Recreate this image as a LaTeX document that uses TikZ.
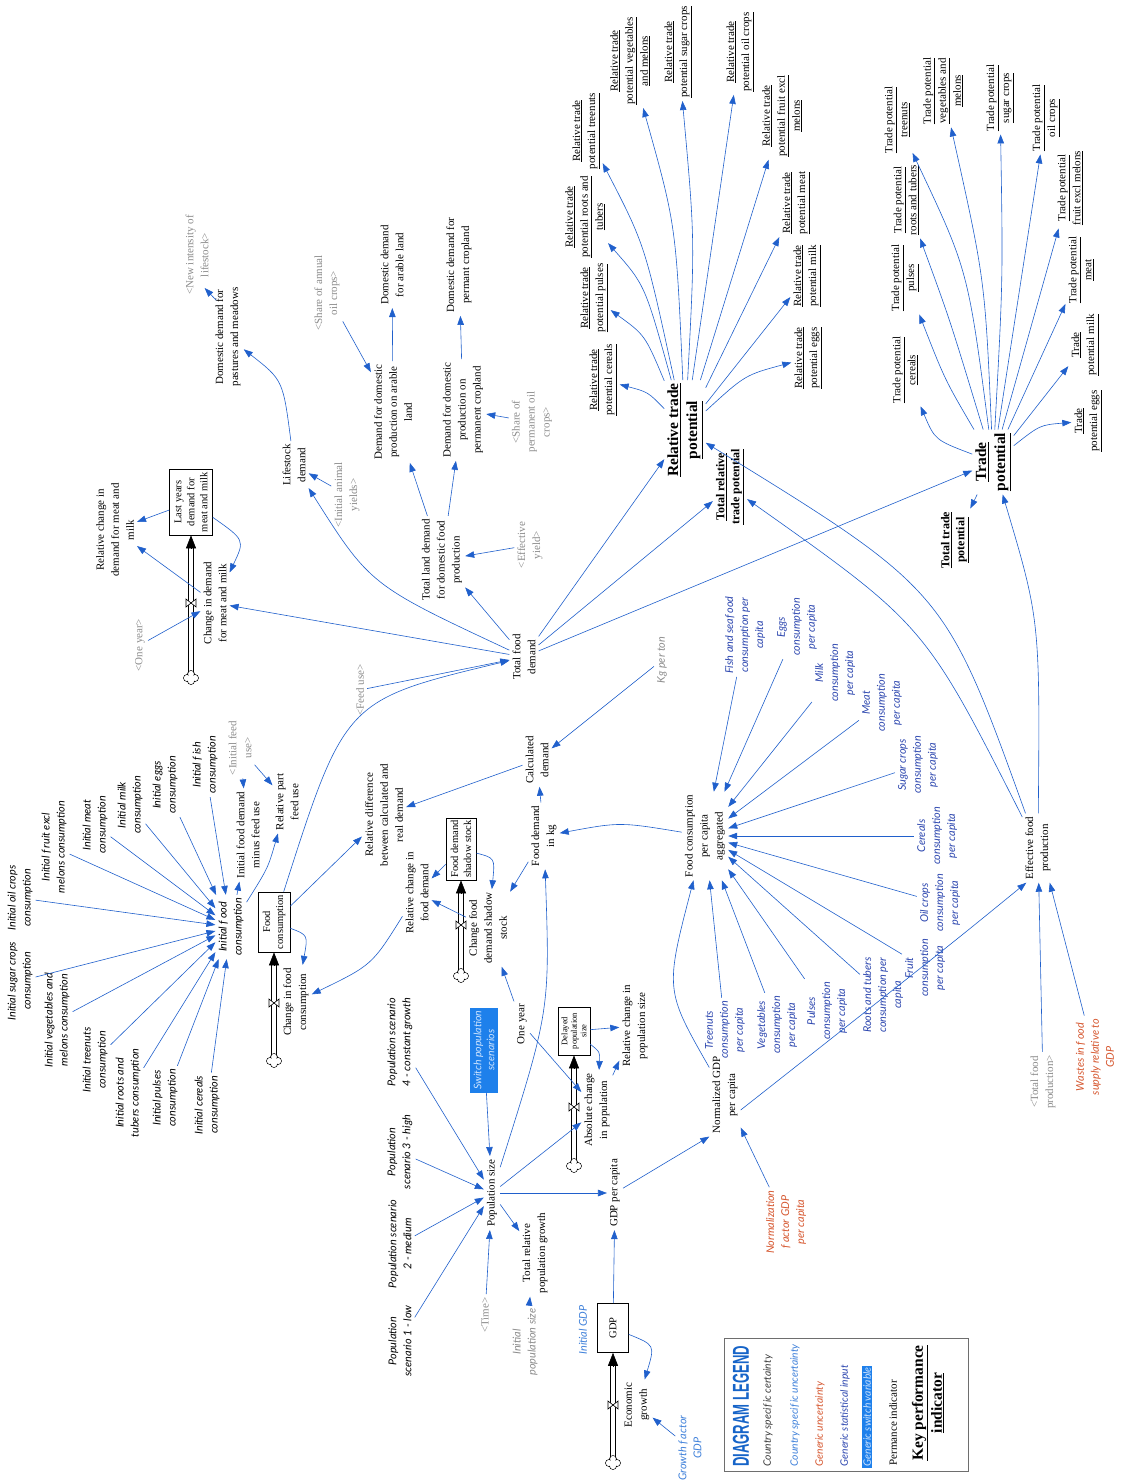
\documentclass[tikz,border=0pt]{standalone}
\usepackage{fontspec}
\setmainfont{Liberation Serif}
\newfontfamily\isans{Lato}
\newfontfamily\lsans{Liberation Sans}
\usetikzlibrary{arrows.meta,calc}

\definecolor{linkblue}{RGB}{32,96,204}
\definecolor{shadowgray}{RGB}{140,140,140}
\definecolor{statblue}{RGB}{44,70,175}
\definecolor{ctryblue}{RGB}{62,128,218}
\definecolor{genorange}{RGB}{214,86,46}
\definecolor{switchblue}{RGB}{30,128,235}
\definecolor{switchtext}{RGB}{205,228,255}
\definecolor{legendblue}{RGB}{22,100,200}
\definecolor{certgray}{RGB}{60,60,60}
\definecolor{framegray}{RGB}{110,110,110}

\newcommand\ulx[1]{\underline{#1}}
% a stock's inflow: two-line pipe from a cloud up to the box, with a black head
\newcommand\stockflow[2]{%
  \draw[pipeline] ([xshift=-2.3pt]#1) -- ([xshift=-2.3pt,yshift=-12pt]#2.west);
  \draw[pipeline] ([xshift=2.3pt]#1) -- ([xshift=2.3pt,yshift=-12pt]#2.west);
  \draw[flowhead] ([yshift=-13pt]#2.west) -- (#2.west);}

\tikzset{
  base/.style={rotate=90, align=center, inner sep=3pt},
  var/.style={base, font=\fontsize{11}{15}\selectfont},
  shad/.style={var, text=shadowgray},
  ital/.style={base, font=\isans\itshape\fontsize{10.8}{15}\selectfont},
  stat/.style={ital, text=statblue},
  ctry/.style={ital, text=ctryblue},
  orng/.style={ital, text=genorange},
  grayit/.style={ital, text=shadowgray},
  kpi/.style={base, font=\bfseries\fontsize{15.5}{19}\selectfont},
  kpis/.style={base, font=\bfseries\fontsize{12}{15}\selectfont},
  stock/.style={base, draw=black, fill=white, line width=0.6pt, inner sep=1.5pt,
    font=\fontsize{10.5}{13}\selectfont},
  switchbox/.style={base, fill=switchblue, text=switchtext,
    font=\isans\itshape\fontsize{10.5}{13}\selectfont,
    minimum width=85pt, minimum height=28pt, inner sep=1pt},
  legit/.style={base, font=\isans\itshape\fontsize{10.3}{12}\selectfont, inner sep=1.5pt},
  arr/.style={draw=linkblue, line width=0.6pt, -{Triangle[length=9pt,width=6.5pt]}},
  pipeline/.style={draw=black, line width=0.6pt},
  flowhead/.style={black, line width=0.6pt, -{Triangle[length=13pt,width=10pt]}},
  flowvalve/.pic={\draw[black, line width=0.6pt, fill=white]
    (-5,-4) -- (-5,4) -- (5,-4) -- (5,4) -- cycle;},
  flowcloud/.pic={
    \draw[black, line width=0.6pt] (-4,1) circle (3.5) (0,-3) circle (3.5)
      (4,1) circle (3.5) (0,4) circle (3.5);
    \fill[white] (-4,1) circle (2.9) (0,-3) circle (2.9) (4,1) circle (2.9)
      (0,4) circle (2.9) (0,1) circle (3);},
}

\begin{document}
\begin{tikzpicture}[x=1pt,y=-1pt]
\useasboundingbox (0,0) rectangle (1123,1484);
\fill[white] (0,0) rectangle (1123,1484);

% ---------- land demand ----------
\node[var] (pastures) at (228,337) {Domestic demand for\\pastures and meadows};
\node[shad] (newint) at (197,255) {<New intensity of\\lifestock>};
\node[var] (arable) at (392,265) {Domestic demand\\for arable land};
\node[var] (permcrop) at (459,265) {Domestic demand for\\permant cropland};
\node[shad] (annoil) at (327,293) {<Share of annual\\oil crops>};
\node[var] (dparable) at (393,412) {Demand for domestic\\production on arable\\land};
\node[var] (dpperm) at (463,410) {Demand for domestic\\production on\\permanent cropland};
\node[shad] (permoil) at (532,422) {<Share of\\permanent oil\\crops>};
\node[var] (totland) at (442,560) {Total land demand\\for domestic food\\production};
\node[shad] (effyield) at (530,545) {<Effective\\yield>};
\node[var] (tfd) at (524,657) {Total food\\demand};
\node[var] (lifestock) at (294,465) {Lifestock\\demand};
\node[shad] (animyield) at (347,495) {<Initial animal\\yields>};
\node[shad] (feeduse) at (360,690) {<Feed use>};

% ---------- meat and milk ----------
\node[var] (relmeat) at (115,530) {Relative change in\\demand for meat and\\milk};
\node[stock, minimum width=66pt, minimum height=43pt] (lastyr) at (191,502) {Last years\\demand for\\meat and milk};
\node[var] (chmeat) at (215,603) {Change in demand\\for meat and milk};
\node[shad] (oneyr0) at (140,645) {<One year>};

% ---------- initial consumption ----------
\node[ital] (isugar) at (20,981) {Initial sugar crops\\consumption};
\node[ital] (ioil) at (20,898) {Initial oil crops\\consumption};
\node[ital] (ifruit) at (54,847) {Initial f\,ruit excl\\melons consumption};
\node[ital] (imeat) at (95,825) {Initial meat\\consumption};
\node[ital] (imilk) at (130,805) {Initial milk\\consumption};
\node[ital] (ieggs) at (165,785) {Initial eggs\\consumption};
\node[ital] (ifish) at (205,765) {Initial f\,ish\\consumption};
\node[ital] (iveg) at (57,1020) {Initial vegetables and\\melons consumption};
\node[ital] (itree) at (95,1060) {Initial treenuts\\consumption};
\node[ital] (iroots) at (128,1093) {Initial roots and\\tubers consumption};
\node[ital] (ipulses) at (165,1098) {Initial pulses\\consumption};
\node[ital] (icereals) at (207,1105) {Initial cereals\\consumption};
\node[ital] (initfood) at (231,927) {Initial f\,ood\\consumption};

\node[var] (initminus) at (248,835) {Initial food demand\\minus feed use};
\node[shad] (initfeed) at (240,748) {<Initial feed\\use>};
\node[var] (relpart) at (287,802) {Relative part\\feed use};
\node[stock, minimum width=60pt, minimum height=32pt] (foodcons) at (274,922) {Food\\consumption};
\node[var] (chfood) at (296,1002) {Change in food\\consumption};
\node[var] (reldiff) at (384,815) {Relative difference\\between calculated and\\real demand};
\node[var] (relchfood) at (417,893) {Relative change in\\food demand};
\node[stock, minimum width=62pt, minimum height=30pt] (shadow) at (461,849) {Food demand\\shadow stock};
\node[var] (chshadow) at (488,928) {Change food\\demand shadow\\stock};
\node[var] (fdkg) at (544,836) {Food demand\\in kg};
\node[var] (calcd) at (537,760) {Calculated\\demand};
\node[grayit] (kgton) at (662,660) {Kg per ton};
\node[var] (fcpc) at (705,836) {Food consumption\\per capita\\aggregated};
\node[var] (oneyr) at (522,1024) {One year};

% ---------- consumption per capita ----------
\node[stat] (cfish) at (745,635) {Fish and seaf\,ood\\consumption per\\capita};
\node[stat] (ceggs) at (797,627) {Eggs\\consumption\\per capita};
\node[stat] (cmilk) at (835,673) {Milk\\consumption\\per capita};
\node[stat] (cmeat) at (882,703) {Meat\\consumption\\per capita};
\node[stat] (csugar) at (918,765) {Sugar crops\\consumption\\per capita};
\node[stat] (ccereals) at (937,836) {Cereals\\consumption\\per capita};
\node[stat] (coil) at (940,903) {Oil crops\\consumption\\per capita};
\node[stat] (cfruit) at (925,968) {Fruit\\consumption\\per capita};
\node[stat] (croots) at (883,995) {Roots and tubers\\consumption per\\capita};
\node[stat] (cpulses) at (827,1011) {Pulses\\consumption\\per capita};
\node[stat] (cveg) at (777,1025) {Vegetables\\consumption\\per capita};
\node[stat] (ctree) at (725,1030) {Treenuts\\consumption\\per capita};

% ---------- population and GDP ----------
\node[switchbox] (switch) at (484,1050) {Switch population\\scenarios};
\node[ital] (scen4) at (400,1042) {Population scenario\\4 - constant growth};
\node[ital] (scen3) at (400,1152) {Population\\scenario 3 - high};
\node[ital] (scen2) at (400,1244) {Population scenario\\2 - medium};
\node[ital] (scen1) at (400,1341) {Population\\scenario 1 - low};
\node[var] (popsize) at (492,1193) {Population size};
\node[shad] (time) at (485,1315) {<Time>};
\node[var] (totrelpop) at (535,1253) {Total relative\\population growth};
\node[grayit] (initpop) at (525,1342) {Initial\\population size};
\node[stock, minimum width=48pt, minimum height=32pt, font=\fontsize{8.5}{9.5}\selectfont] (delayed) at (574,1031) {Delayed\\population\\size};
\node[var] (relpop) at (635,1026) {Relative change in\\population size};
\node[var] (abschpop) at (597,1110) {Absolute change\\in population};
\node[var] (gdppc) at (615,1193) {GDP per capita};
\node[stock, minimum width=49pt, minimum height=31pt] (gdp) at (613,1328) {GDP};
\node[ctry] (initgdp) at (583,1330) {Initial GDP};
\node[var] (econ) at (637,1405) {Economic\\growth};
\node[ctry] (growth) at (690,1448) {Growth f\,actor\\GDP};
\node[var] (normgdp) at (725,1095) {Normalized GDP\\per capita};
\node[orng] (normfac) at (786,1222) {Normalization\\f\,actor GDP\\per capita};

% ---------- production ----------
\node[var] (efp) at (1038,848) {Effective food\\production};
\node[shad] (totprod) at (1043,1082) {<Total food\\production>};
\node[orng] (wastes) at (1095,1057) {Wastes in f\,ood\\supply relative to\\GDP};

% ---------- trade potentials ----------
\node[kpi] (rtp) at (685,430) {\ulx{Relative trade}\\\ulx{potential}};
\node[kpis] (totrtp) at (730,487) {\ulx{Total relative}\\\ulx{trade potential}};
\node[kpi] (tp) at (993,462) {\ulx{Trade}\\\ulx{potential}};
\node[kpis] (tottp) at (955,540) {\ulx{Total trade}\\\ulx{potential}};

\node[var] (rc) at (603,380) {\ulx{Relative trade}\\\ulx{potential cereals}};
\node[var] (rp) at (594,298) {\ulx{Relative trade}\\\ulx{potential pulses}};
\node[var] (rr) at (585,217) {\ulx{Relative trade}\\\ulx{potential roots and}\\\ulx{tubers}};
\node[var] (rt) at (586,131) {\ulx{Relative trade}\\\ulx{potential treenuts}};
\node[var] (rv) at (630,61) {\ulx{Relative trade}\\\ulx{potential vegetables}\\\ulx{and melons}};
\node[var] (rs) at (678,52) {\ulx{Relative trade}\\\ulx{potential sugar crops}};
\node[var] (ro) at (740,52) {\ulx{Relative trade}\\\ulx{potential oil crops}};
\node[var] (rf) at (782,116) {\ulx{Relative trade}\\\ulx{potential fruit excl}\\\ulx{melons}};
\node[var] (rm) at (796,203) {\ulx{Relative trade}\\\ulx{potential meat}};
\node[var] (rmi) at (807,276) {\ulx{Relative trade}\\\ulx{potential milk}};
\node[var] (re) at (808,358) {\ulx{Relative trade}\\\ulx{potential eggs}};

\node[var] (tc) at (905,370) {\ulx{Trade potential}\\\ulx{cereals}};
\node[var] (tpp) at (905,278) {\ulx{Trade potential}\\\ulx{pulses}};
\node[var] (tr) at (906,200) {\ulx{Trade potential}\\\ulx{roots and tubers}};
\node[var] (tt) at (897,120) {\ulx{Trade potential}\\\ulx{treenuts}};
\node[var] (tv) at (943,91) {\ulx{Trade potential}\\\ulx{vegetables and}\\\ulx{melons}};
\node[var] (ts) at (1000,98) {\ulx{Trade potential}\\\ulx{sugar crops}};
\node[var] (to) at (1046,118) {\ulx{Trade potential}\\\ulx{oil crops}};
\node[var] (tf) at (1070,188) {\ulx{Trade potential}\\\ulx{fruit excl melons}};
\node[var] (tm) at (1081,270) {\ulx{Trade potential}\\\ulx{meat}};
\node[var] (tmi) at (1085,345) {\ulx{Trade}\\\ulx{potential milk}};
\node[var] (te) at (1088,421) {\ulx{Trade}\\\ulx{potential eggs}};

% ---------- stocks and flows ----------
\coordinate (cl1) at (191,677);
\coordinate (cl2) at (274,1060);
\coordinate (cl3) at (461,975);
\coordinate (cl4) at (574,1165);
\coordinate (cl5) at (613,1462);
\stockflow{cl1}{lastyr}
\stockflow{cl2}{foodcons}
\stockflow{cl3}{shadow}
\stockflow{cl4}{delayed}
\stockflow{cl5}{gdp}
\pic at (191,603) {flowvalve};
\pic at (274,1003) {flowvalve};
\pic at (461,925) {flowvalve};
\pic at (574,1107) {flowvalve};
\pic at (613,1405) {flowvalve};
\foreach \c in {cl1,cl2,cl3,cl4,cl5} \pic at (\c) {flowcloud};

% ---------- connectors: land ----------
\draw[arr] ([shift={(4,16)}]pastures.north east) -- ([shift={(-7,-10)}]newint.south west);
\draw[arr] (lifestock) .. controls (283,380) .. (pastures);
\draw[arr] (annoil) -- (dparable);
\draw[arr] (dparable) -- (arable);
\draw[arr] (dpperm) -- (permcrop);
\draw[arr] (totland) -- (dparable);
\draw[arr] (totland) -- (dpperm);
\draw[arr] (permoil) -- (dpperm);
\draw[arr] (effyield) -- (totland);
\draw[arr] (tfd) -- (totland);
\draw[arr] (animyield) -- (lifestock);
\draw[arr] (tfd) .. controls (370,585) .. (lifestock);
\draw[arr] (tfd) -- (chmeat);
\draw[arr] (feeduse) -- (tfd);
\draw[arr] (foodcons) .. controls (345,700) .. (tfd);
\draw[arr] (tfd) -- (rtp);
\draw[arr] (tfd) -- (totrtp);
\draw[arr] (tfd) -- (tp);

% ---------- connectors: meat and milk ----------
\draw[arr] (lastyr) -- (relmeat);
\draw[arr] (chmeat) -- (relmeat);
\draw[arr] (lastyr) .. controls (245,540) .. (chmeat);
\draw[arr] (oneyr0) -- (chmeat);

% ---------- connectors: food consumption ----------
\foreach \n in {isugar,ioil,ifruit,imeat,imilk,ieggs,ifish,iveg,itree,iroots,ipulses,icereals}
  \draw[arr] (\n) -- (initfood);
\draw[arr] (initfood) -- (initminus);
\draw[arr] (initfeed) -- (initminus);
\draw[arr] (initfeed) -- (relpart);
\draw[arr] (initfood) .. controls (268,868) .. (relpart);
\draw[arr] (foodcons) -- (reldiff);
\draw[arr] (foodcons) .. controls (308,935) .. (chfood);
\draw[arr] (relchfood) .. controls (372,965) .. (chfood);
\draw[arr] (calcd) -- (reldiff);
\draw[arr] (fdkg) -- (calcd);
\draw[arr] (kgton) -- (calcd);
\draw[arr] (fcpc) .. controls (620,822) .. (fdkg);
\draw[arr] (shadow) -- (relchfood);
\draw[arr] (chshadow) -- (relchfood);
\draw[arr] (shadow) .. controls (495,858) .. (chshadow);
\draw[arr] (fdkg) -- (chshadow);
\draw[arr] (oneyr) -- (chshadow);
\draw[arr] (popsize) .. controls (550,1010) .. (fdkg);
\foreach \n in {cfish,ceggs,cmilk,cmeat,csugar,ccereals,coil,cfruit,croots,cpulses,cveg,ctree}
  \draw[arr] (\n) -- (fcpc);

% ---------- connectors: population and GDP ----------
\foreach \n in {scen1,scen2,scen3,scen4,switch,time}
  \draw[arr] (\n) -- (popsize);
\draw[arr] (popsize) -- (totrelpop);
\draw[arr] (initpop) -- (totrelpop);
\draw[arr] (popsize) -- (gdppc);
\draw[arr] (popsize) -- (abschpop);
\draw[arr] (oneyr) -- (abschpop);
\draw[arr] (delayed) -- (relpop);
\draw[arr] (delayed) .. controls (600,1052) .. (abschpop);
\draw[arr] (abschpop) -- (relpop);
\draw[arr] (gdp) -- (gdppc);
\draw[arr] (gdp) .. controls (655,1345) .. (econ);
\draw[arr] (growth) -- (econ);
\draw[arr] (gdppc) -- (normgdp.north west);
\draw[arr] (normfac) -- (normgdp);
\draw[arr] (normgdp) .. controls (665,990) .. (fcpc);
\draw[arr] ([yshift=-15pt]normgdp.south) .. controls (950,945) .. ([xshift=4pt]efp.north west);

% ---------- connectors: production and trade ----------
\draw[arr] (totprod) -- (efp);
\draw[arr] (wastes) -- ([xshift=-4pt]efp.south west);
\draw[arr] (efp) .. controls (945,590) .. (rtp);
\draw[arr] (efp) .. controls (925,625) .. (totrtp);
\draw[arr] (efp) .. controls (1040,620) .. (tp);

\draw[arr] (rtp) .. controls (648,392) .. (rc);
\draw[arr] (rtp) .. controls (645,335) .. (rp);
\draw[arr] (rtp) .. controls (645,285) .. (rr);
\draw[arr] (rtp) .. controls (645,245) .. (rt);
\draw[arr] (rtp) .. controls (676,225) .. (rv);
\draw[arr] (rtp) .. controls (695,240) .. (rs);
\draw[arr] (rtp) -- (ro);
\draw[arr] (rtp) -- (rf);
\draw[arr] (rtp) -- (rm);
\draw[arr] (rtp) -- (rmi);
\draw[arr] (rtp) .. controls (745,375) .. (re);

\draw[arr] (tp) .. controls (935,440) .. (tc);
\draw[arr] (tp) .. controls (945,380) .. (tpp);
\draw[arr] (tp) .. controls (950,320) .. (tr);
\draw[arr] (tp) .. controls (968,270) .. (tt);
\draw[arr] (tp) .. controls (985,280) .. (tv);
\draw[arr] (tp) .. controls (1003,280) .. (ts);
\draw[arr] (tp) -- (to);
\draw[arr] (tp) -- (tf);
\draw[arr] (tp) -- (tm);
\draw[arr] (tp) -- (tmi);
\draw[arr] (tp) .. controls (1040,425) .. (te);
\draw[arr] (tp) -- (tottp);

% ---------- legend ----------
\draw[framegray, line width=0.8pt] (724,1338) rectangle (968,1471);
\node[base, anchor=west, inner sep=0pt, text=legendblue,
  font=\lsans\bfseries\fontsize{23}{23}\selectfont] (legtitle) at (741,1467)
  {\scalebox{0.57}[1]{DIAGRAM LEGEND}};
\node[legit, anchor=west, text=certgray] (leg1) at (768,1468) {Country specif\,ic certainty};
\node[legit, anchor=west, text=ctryblue] (leg2) at (795,1468) {Country specif\,ic uncertainty};
\node[legit, anchor=west, text=genorange] (leg3) at (820,1468) {Generic uncertainty};
\node[legit, anchor=west, text=statblue] (leg4) at (845,1468) {Generic statistical input};
\node[legit, anchor=west, fill=switchblue, text=switchtext] (leg5) at (867,1468) {Generic switch variable};
\node[var, anchor=west, inner sep=1.5pt] (leg6) at (893,1467) {Permance indicator};
\node[kpi] (leg7) at (928,1403) {\ulx{Key performance}\\\ulx{indicator}};
\end{tikzpicture}
\end{document}
